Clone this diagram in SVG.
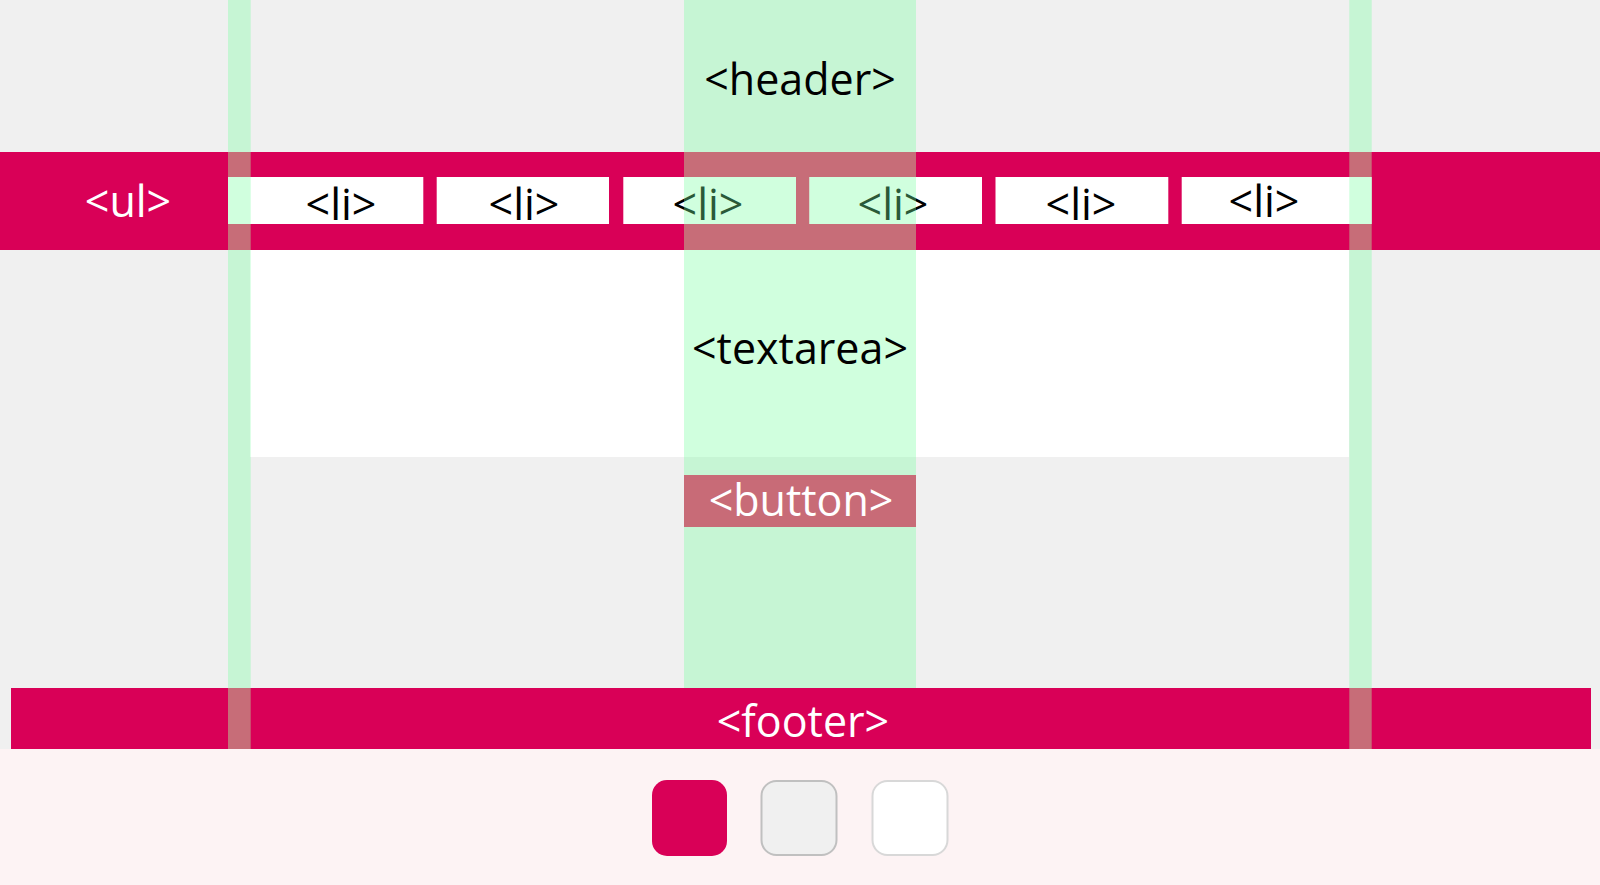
<svg xmlns="http://www.w3.org/2000/svg" width="1600" height="885" viewBox="0 0 1600 885">
  <style>
    .lbl { font-family: "Open Sans", Lato, "DejaVu Sans", sans-serif; font-size: 43px; text-anchor: middle; }
    .dark { fill: #000000; }
    .light { fill: #ffffff; }
    .red { fill: #d90057; }
    .mix { fill: #c76d78; }
    .box { fill: #ffffff; }
    .guide { fill: rgb(120,255,160); fill-opacity: 0.35; }
  </style>

  <!-- page background -->
  <rect x="0" y="0" width="1600" height="749" fill="#f0f0f0"/>
  <rect x="0" y="749" width="1600" height="136" fill="#fdf3f4"/>

  <!-- textarea field -->
  <g id="textarea-box">
    <rect x="250" y="250" width="1099" height="207" fill="#ffffff"/>
  </g>

  <!-- footer bar -->
  <g id="footer-bar">
    <rect class="red" x="11" y="688" width="1580" height="61"/>
    <rect class="mix" x="228" y="688" width="22.7" height="61"/>
    <rect class="mix" x="1349.3" y="688" width="22.4" height="61"/>
  </g>

  <!-- list bar -->
  <g id="ul">
    <rect class="red" x="0" y="152" width="1600" height="98"/>
    <rect class="mix" x="228" y="152" width="22.7" height="98"/>
    <rect class="mix" x="684" y="152" width="232" height="98"/>
    <rect class="mix" x="1349.3" y="152" width="22.4" height="98"/>
    <text class="lbl light" x="128" y="217">&lt;ul&gt;</text>
  </g>

  <g id="li-1">
    <rect class="box" x="228" y="177" width="195.3" height="47"/>
    <text class="lbl dark" x="341" y="220">&lt;li&gt;</text>
  </g>
  <g id="li-2">
    <rect class="box" x="436.7" y="177" width="172.3" height="47"/>
    <text class="lbl dark" x="524" y="220">&lt;li&gt;</text>
  </g>
  <g id="li-3">
    <rect class="box" x="623.3" y="177" width="172.7" height="47"/>
    <text class="lbl dark" x="708" y="220">&lt;li&gt;</text>
  </g>
  <g id="li-4">
    <rect class="box" x="809.3" y="177" width="172.7" height="47"/>
    <text class="lbl dark" x="893" y="220">&lt;li&gt;</text>
  </g>
  <g id="li-5">
    <rect class="box" x="995.5" y="177" width="172.8" height="47"/>
    <text class="lbl dark" x="1081" y="220">&lt;li&gt;</text>
  </g>
  <g id="li-6">
    <rect class="box" x="1181.7" y="177" width="190" height="47"/>
    <text class="lbl dark" x="1264" y="217">&lt;li&gt;</text>
  </g>

  <!-- translucent layout guide columns -->
  <g id="guides">
    <!-- left column -->
    <rect class="guide" x="228" y="0" width="22.7" height="152"/>
    <rect class="guide" x="228" y="177" width="22.7" height="47"/>
    <rect class="guide" x="228" y="250" width="22.7" height="438"/>
    <!-- centre column -->
    <rect class="guide" x="684" y="0" width="232" height="152"/>
    <rect class="guide" x="684" y="177" width="112" height="47"/>
    <rect class="guide" x="809.3" y="177" width="106.7" height="47"/>
    <rect class="guide" x="684" y="250" width="232" height="438"/>
    <!-- right column -->
    <rect class="guide" x="1349.3" y="0" width="22.4" height="152"/>
    <rect class="guide" x="1349.3" y="177" width="22.4" height="47"/>
    <rect class="guide" x="1349.3" y="250" width="22.4" height="438"/>
  </g>

  <g id="header">
    <text class="lbl dark" x="800" y="95">&lt;header&gt;</text>
  </g>

  <g id="textarea">
    <text class="lbl dark" x="800" y="364">&lt;textarea&gt;</text>
  </g>

  <g id="button">
    <rect x="684" y="475" width="232" height="52" fill="#c86b77"/>
    <text class="lbl light" x="801" y="516">&lt;button&gt;</text>
  </g>

  <g id="footer">
    <text class="lbl light" x="803" y="737">&lt;footer&gt;</text>
  </g>

  <!-- colour swatches -->
  <g id="swatches">
    <rect x="652" y="780" width="75" height="76" rx="15" fill="#d90057"/>
    <rect x="761.5" y="781" width="75" height="74" rx="15" fill="#f0f0f0" stroke="#c0c0c0" stroke-width="2"/>
    <rect x="872.5" y="781" width="75" height="74" rx="15" fill="#ffffff" stroke="#d8d8d8" stroke-width="2"/>
  </g>
</svg>
